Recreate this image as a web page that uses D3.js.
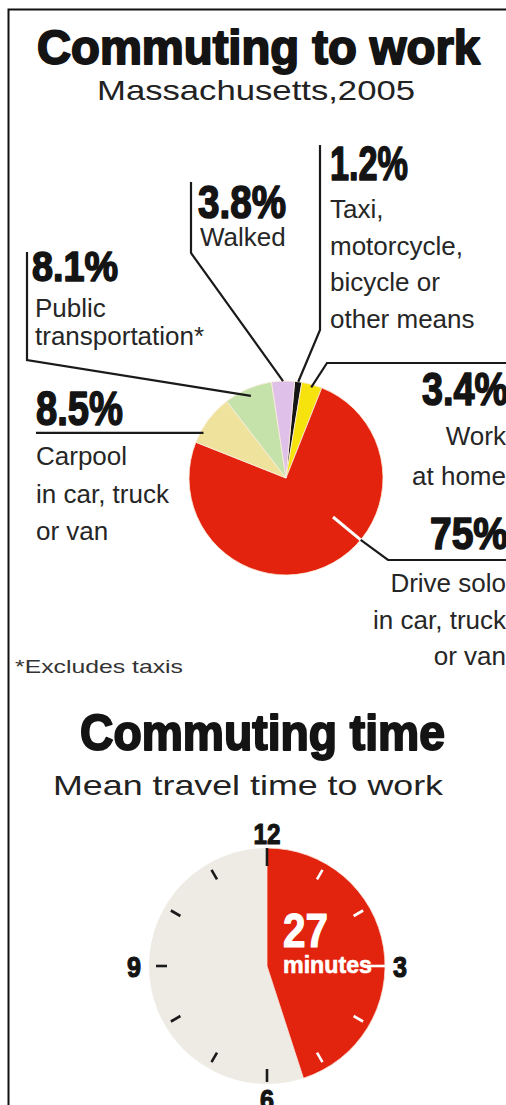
<!DOCTYPE html>
<html><head><meta charset="utf-8">
<script src="https://cdn.jsdelivr.net/npm/d3@7"></script>
<style>
html,body{margin:0;padding:0;background:#fff;}
svg{display:block;}
</style></head><body>
<svg id="chart" width="506" height="1105"></svg>
<script>
// ---------------- data ----------------
const modeKeys = ["other", "home", "drive", "carpool", "transit", "walked"];
const modeShares = [1.2, 3.4, 75, 8.5, 8.1, 3.8];
const modePctLabels = ["1.2%", "3.4%", "75%", "8.5%", "8.1%", "3.8%"];
const modeDescriptions = [
  ["Taxi,", "motorcycle,", "bicycle or", "other means"],
  ["Work", "at home"],
  ["Drive solo", "in car, truck", "or van"],
  ["Carpool", "in car, truck", "or van"],
  ["Public", "transportation*"],
  ["Walked"]
];
const titleTop = "Commuting to work";
const subtitleTop = "Massachusetts,2005";
const footnote = "*Excludes taxis";
const titleBottom = "Commuting time";
const subtitleBottom = "Mean travel time to work";
const commuteMinutes = 27;
const commuteUnit = "minutes";
const clockHours = [12, 3, 6, 9];
const clockHourLabels = ["12", "3", "6", "9"];

// ---------------- styles ----------------
const modeColors = ["#141414", "#f6e20c", "#e3230d", "#eee29c", "#c6e2ab", "#dec0e8"];
const BOLD = "'Liberation Sans', Arial, sans-serif";
const REG = "'Liberation Sans', Arial, sans-serif";
const INK = "#141414";
const LABEL_INK = "#262626";

const svg = d3.select("#chart");
svg.append("rect").attr("width", 506).attr("height", 1105).attr("fill", "#fff");

function txt(g, s, x, y, o) {
  const fill = o.fill || (o.bold ? INK : LABEL_INK);
  const t = g.append("text").attr("x", x).attr("y", y).text(s)
    .attr("font-family", o.bold ? BOLD : REG)
    .attr("font-size", o.size)
    .attr("font-weight", o.bold ? 700 : 400)
    .attr("fill", fill)
    .attr("text-anchor", o.anchor || "start");
  if (o.len) t.attr("textLength", o.len).attr("lengthAdjust", "spacingAndGlyphs");
  if (o.bold) t.attr("stroke", fill).attr("stroke-width", o.sw == null ? 1 : o.sw).attr("stroke-linejoin", "round");
  return t;
}

// frame
svg.append("path").attr("d", "M8.5,1105 L8.5,9.5 L507,9.5")
  .attr("fill", "none").attr("stroke", "#111").attr("stroke-width", 2);

// titles
txt(svg, titleTop, 37, 64, {bold: true, size: 48, len: 443, sw: 2});
txt(svg, subtitleTop, 97, 100, {size: 28, len: 318, fill: "#222"});

// ---------------- pie ----------------
const cx = 286, cy = 478, R = 97;
const rot = 5.1 * Math.PI / 180;
const pie = d3.pie().sort(null).value(d => d).startAngle(rot).endAngle(rot + 2 * Math.PI);
const arcs = pie(modeShares);
const arcGen = d3.arc().innerRadius(0).outerRadius(R);
const pieG = svg.append("g").attr("transform", `translate(${cx},${cy})`);
pieG.selectAll("path.slice").data(arcs).join("path")
  .attr("class", "slice")
  .attr("d", arcGen)
  .attr("fill", (d, i) => modeColors[i])
  .attr("stroke", "#fbeedd").attr("stroke-width", 0.8);

const polar = (a, r) => [cx + r * Math.sin(a), cy - r * Math.cos(a)];

// label layout (positions only)
const layout = {
  other:   {pct: {x: 330, y: 180, size: 48, len: 78}, desc: {x: 330, y: 218, dy: 36.6, anchor: "start"},
            leader: {f: 0.5, k: 1.0, pre: [[320, 145], [320, 330]], post: []}},
  home:    {pct: {x: 422, y: 405, size: 46, len: 86}, desc: {x: 506, y: 445, dy: 40, anchor: "end"},
            leader: {f: 0.5, k: 0.97, pre: [], post: [[327, 363], [507, 363]]}},
  drive:   {pct: {x: 430, y: 549, size: 44, len: 78}, desc: {x: 506, y: 592, dy: 36.5, anchor: "end"},
            leader: {f: 0.4, k: 1.0, inner: 0.63, pre: [], post: [[388, 560], [507, 560]]}},
  carpool: {pct: {x: 36, y: 425, size: 48, len: 87}, desc: {x: 36, y: 465, dy: 37.5, anchor: "start"},
            leader: {f: 0.23, k: 0.97, horiz: 36, pre: [], post: []}},
  transit: {pct: {x: 32, y: 281, size: 42, len: 86}, desc: {x: 35, y: 317, dy: 28, anchor: "start"},
            leader: {f: 0.5, k: 0.92, pre: [[27, 252], [27, 360]], post: []}},
  walked:  {pct: {x: 198, y: 218, size: 46, len: 88}, desc: {x: 200, y: 246, dy: 30, anchor: "start"},
            leader: {f: 0.5, k: 1.0, pre: [[191, 182], [191, 253]], post: []}}
};

const lineGen = d3.line();
const annoG = svg.append("g");
arcs.forEach((a, i) => {
  const L = layout[modeKeys[i]];
  const ang = a.startAngle + L.leader.f * (a.endAngle - a.startAngle);
  const anchor = polar(ang, L.leader.k * R);
  if (L.leader.inner != null) {
    annoG.append("path").attr("d", lineGen([polar(ang, L.leader.inner * R), anchor]))
      .attr("stroke", "#fff").attr("stroke-width", 3).attr("fill", "none");
  }
  let pts;
  if (L.leader.horiz != null) pts = [[L.leader.horiz, anchor[1]], anchor];
  else pts = [...L.leader.pre, anchor, ...L.leader.post];
  annoG.append("path").attr("d", lineGen(pts))
    .attr("stroke", "#1a1a1a").attr("stroke-width", 2.2).attr("fill", "none")
    .attr("stroke-linejoin", "miter");

  txt(annoG, modePctLabels[i], L.pct.x, L.pct.y, {bold: true, size: L.pct.size, len: L.pct.len, sw: 1.6});
  modeDescriptions[i].forEach((line, j) => {
    txt(annoG, line, L.desc.x, L.desc.y + j * L.desc.dy, {size: 26, anchor: L.desc.anchor});
  });
});

txt(svg, footnote, 15, 673, {size: 19, len: 168, fill: "#333"});

// ---------------- clock ----------------
txt(svg, titleBottom, 80, 750, {bold: true, size: 50, len: 365, sw: 2});
txt(svg, subtitleBottom, 53, 795, {size: 28, len: 390, fill: "#222"});

const ccx = 267, ccy = 966, CR = 118;
const minuteScale = d3.scaleLinear().domain([0, 60]).range([0, 2 * Math.PI]);
const hourScale = d3.scaleLinear().domain([0, 12]).range([0, 2 * Math.PI]);
const clockG = svg.append("g").attr("transform", `translate(${ccx},${ccy})`);
clockG.append("circle").attr("r", CR).attr("fill", "#eeebe5");
const redEnd = minuteScale(commuteMinutes);
clockG.append("path")
  .attr("d", d3.arc()({innerRadius: 0, outerRadius: CR, startAngle: 0, endAngle: redEnd}))
  .attr("fill", "#e2230e").attr("stroke", "#fbe3da").attr("stroke-width", 0.8);

const cpolar = (a, r) => [r * Math.sin(a), -r * Math.cos(a)];
d3.range(1, 13).forEach(h => {
  const a = hourScale(h % 12);
  const onRed = (h % 12) !== 0 && a < redEnd;
  const r0 = h === 6 ? 103 : 100;
  const r1 = h === 3 ? 124 : (h === 12 ? 118 : (h === 6 ? 116 : 111));
  const p0 = cpolar(a, r0), p1 = cpolar(a, r1);
  clockG.append("line").attr("x1", p0[0]).attr("y1", p0[1]).attr("x2", p1[0]).attr("y2", p1[1])
    .attr("stroke", onRed ? "#fff" : "#1a1a1a").attr("stroke-width", 2.6);
});

clockHours.forEach((h, i) => {
  const p = cpolar(hourScale(h % 12), 133);
  txt(clockG, clockHourLabels[i], p[0], p[1] + 11, {bold: true, size: 30, anchor: "middle", sw: 1.2,
      len: clockHourLabels[i].length === 2 ? 27 : 14});
});

txt(clockG, String(commuteMinutes), 283 - ccx, 947 - ccy, {bold: true, size: 48, len: 45, fill: "#fff", sw: 1.2});
txt(clockG, commuteUnit, 283 - ccx, 973 - ccy, {bold: true, size: 23, len: 89, fill: "#fff", sw: 0.6});
</script>
</body></html>
